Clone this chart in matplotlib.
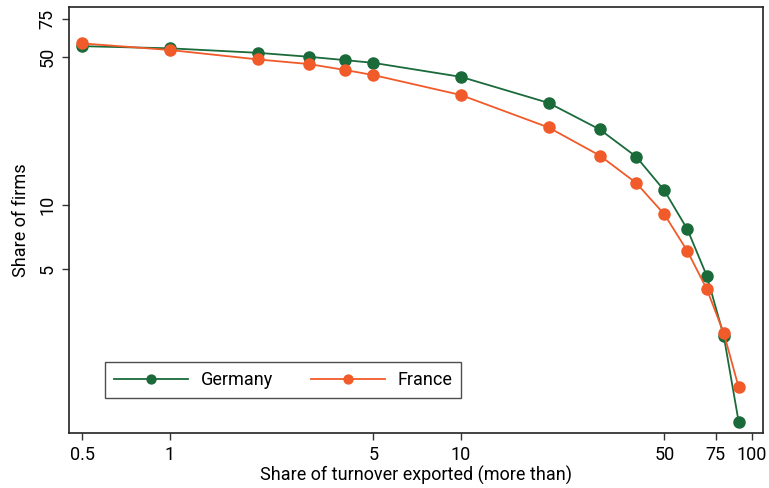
import matplotlib
matplotlib.use("Agg")
import matplotlib.pyplot as plt
from matplotlib.ticker import FixedLocator, NullLocator

# ── data ──────────────────────────────────────────────────────────────
share_exported = [0.5, 1, 2, 3, 4, 5, 10, 20, 30, 40, 50, 60, 70, 80, 90]
germany = [56.1, 54.8, 52.2, 50.0, 48.2, 46.8, 40.2, 30.3, 22.7, 16.9,
           11.7, 7.67, 4.62, 2.41, 0.95]
france = [57.8, 53.8, 48.6, 46.2, 43.3, 41.0, 33.0, 23.2, 17.1, 12.7,
          9.03, 6.06, 4.00, 2.49, 1.38]

x_ticks = [0.5, 1, 5, 10, 50, 75, 100]
x_tick_labels = ["0.5", "1", "5", "10", "50", "75", "100"]
y_ticks = [5, 10, 50, 75]
y_tick_labels = ["5", "10", "50", "75"]

GREEN = "#1a6a3a"
ORANGE = "#f15a29"

plt.rcParams['font.family'] = ['Roboto', 'DejaVu Sans']

fig = plt.figure(figsize=(7.69, 4.88), dpi=100)
ax = fig.add_axes([0.0897, 0.1127, 0.9023, 0.8733])

ax.plot(share_exported, germany, color=GREEN, lw=1.3, marker='o', ms=8,
        label='Germany')
ax.plot(share_exported, france, color=ORANGE, lw=1.3, marker='o', ms=8,
        label='France')

ax.set_xscale('log')
ax.set_yscale('log')
ax.set_xlim(0.45, 109)
ax.set_ylim(0.84, 86)

ax.xaxis.set_major_locator(FixedLocator(x_ticks))
ax.xaxis.set_minor_locator(NullLocator())
ax.set_xticklabels(x_tick_labels)
ax.yaxis.set_major_locator(FixedLocator(y_ticks))
ax.yaxis.set_minor_locator(NullLocator())
ax.set_yticklabels(y_tick_labels, rotation=90, va='center')

ax.tick_params(axis='both', direction='out', length=5, width=1,
               labelsize=13, color='#333333', pad=4)
for s in ax.spines.values():
    s.set_linewidth(1.2)
    s.set_color('#222222')

ax.set_xlabel('Share of turnover exported (more than)', fontsize=13, labelpad=2)
ax.set_ylabel('Share of firms', fontsize=13, labelpad=6)

leg = ax.legend(loc='lower left', bbox_to_anchor=(0.052, 0.082), ncol=2,
                fontsize=13, frameon=True, fancybox=False, edgecolor='#222222',
                handlelength=4.1, handletextpad=0.7, columnspacing=2.1,
                markerscale=0.8, borderpad=0.5, borderaxespad=0)
leg.get_frame().set_linewidth(1.0)

fig.savefig('out.png', dpi=100)
